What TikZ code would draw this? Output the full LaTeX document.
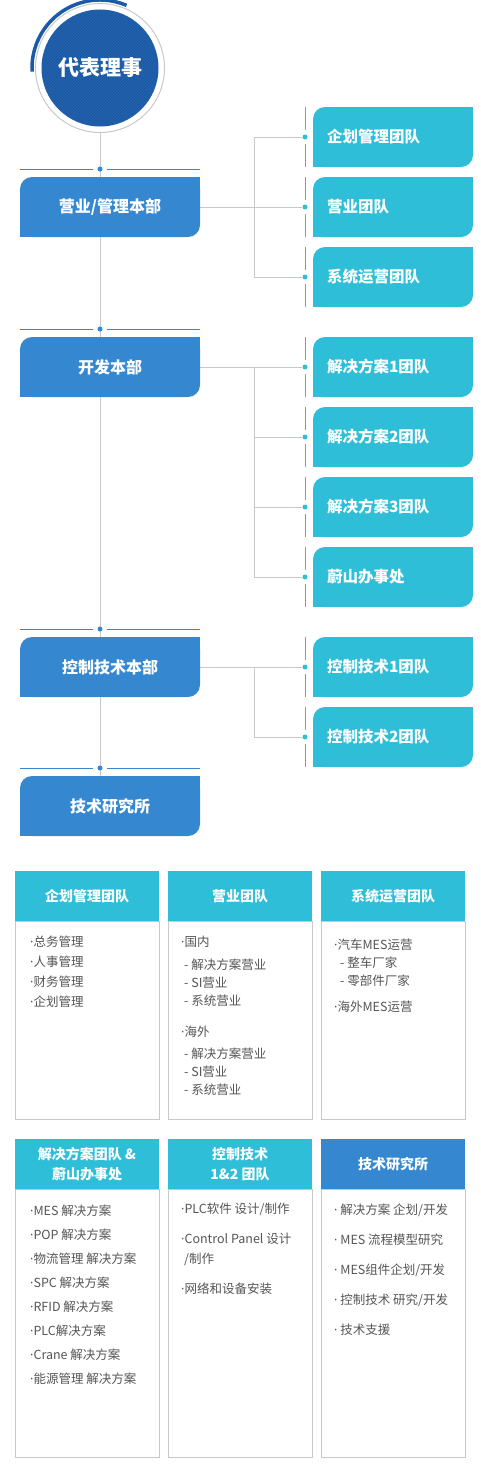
\documentclass[tikz,border=0pt]{standalone}
\usepackage{fontspec}
\setmainfont{Noto Sans CJK SC}
\newfontfamily\dotfont{Noto Sans}
\newcommand{\idot}{{\dotfont ·}}
\usetikzlibrary{positioning, patterns, backgrounds}
\definecolor{ceoblue}{HTML}{1A5AA6}
\definecolor{hqblue}{HTML}{3588CF}
\definecolor{teamcyan}{HTML}{2FBED8}
\definecolor{linegrey}{HTML}{C8C8C8}
\definecolor{itemgrey}{HTML}{555555}

\tikzset{
  hqbox/.style={fill=hqblue, rounded corners=12pt, minimum width=180pt, minimum height=60pt,
    inner sep=0pt, text=white, font=\bfseries\fontsize{16}{18}\selectfont},
  teambox/.style={fill=teamcyan, rounded corners=12pt, minimum height=60pt, text width=132pt,
    inner xsep=14pt, inner ysep=0pt, align=left, text=white, font=\bfseries\fontsize{15.5}{18}\selectfont},
  cardhead/.style={fill=#1, minimum width=144pt, minimum height=50pt, inner sep=0pt,
    align=center, text=white, font=\bfseries\fontsize{14}{20}\selectfont},
  cardbody/.style={draw=linegrey, line width=1pt, fill=white, minimum width=144pt, inner sep=0pt},
  cardtext/.style={anchor=west, inner sep=0pt, text=itemgrey, font=\fontsize{12.5}{15}\selectfont},
  pin/.style={circle, fill=#1, inner sep=0pt, minimum size=5pt},
  link/.style={draw=linegrey, line width=1pt},
}

\begin{document}
\begin{tikzpicture}[x=1pt, y=-1pt]
  \useasboundingbox (0,0) rectangle (480,1480);

  % CEO circle
  \fill[ceoblue] (100,68) circle[radius=58.5pt];
  \fill[pattern=north east lines, pattern color=white, opacity=0.07] (100,68) circle[radius=58.5pt];
  \node[circle, minimum size=117pt, inner sep=0pt, text=white,
        font=\bfseries\fontsize{21}{24}\selectfont] (ceo) at (100,68) {代表理事};
  \draw[linegrey, line width=1pt] (ceo.center) circle[radius=64.5pt];
  \draw[ceoblue, line width=3.5pt] ([shift={(ceo.center)}]67:68pt) arc[start angle=67, end angle=183, radius=68pt];

  % Headquarters rows
  \def\hqrow#1#2#3{%
    \pgfmathsetmacro{\ymid}{#2+30}
    \pgfmathsetmacro{\yline}{#2-8}
    \node[hqbox] (#1) at (110,\ymid) {#3};
    \fill[hqblue] (#1.north east) rectangle ++(-12,12);
    \fill[hqblue] (#1.south west) rectangle ++(12,-12);
    \draw[hqblue, line width=1pt] (20,\yline) -- (93,\yline) (107,\yline) -- (200,\yline);
    \node[pin=hqblue] (#1 pin) at (100,\yline) {};
  }
  \hqrow{mgmt}{177}{营业/管理本部}
  \hqrow{dev}{337}{开发本部}
  \hqrow{ctrl}{637}{控制技术本部}
  \hqrow{lab}{776}{技术研究所}

  % Team rows
  \def\teamrow#1#2#3{%
    \pgfmathsetmacro{\ymid}{#2+30}
    \node[teambox] (#1) at (393,\ymid) {#3};
    \fill[teamcyan] (#1.north east) rectangle ++(-12,12);
    \fill[teamcyan] (#1.south west) rectangle ++(12,-12);
    \draw[teamcyan, line width=1pt] (305,#2) -- (305,\ymid-7) (305,\ymid+7) -- (305,#2+60);
    \node[pin=teamcyan] (#1 pin) at (305,\ymid) {};
  }
  \teamrow{plan}{107}{企划管理团队}
  \teamrow{salesteam}{177}{营业团队}
  \teamrow{ops}{247}{系统运营团队}
  \teamrow{sol1}{337}{解决方案1团队}
  \teamrow{sol2}{407}{解决方案2团队}
  \teamrow{sol3}{477}{解决方案3团队}
  \teamrow{office}{547}{蔚山办事处}
  \teamrow{ctrl1}{637}{控制技术1团队}
  \teamrow{ctrl2}{707}{控制技术2团队}

  \coordinate[right=54pt of mgmt] (mgmt fork);
  \coordinate[right=54pt of dev] (dev fork);
  \coordinate[right=54pt of ctrl] (ctrl fork);

  \begin{scope}[on background layer]
    \draw[link] ([yshift=-6pt]ceo.south) -- (lab pin |- lab.north);
    \draw[link] (mgmt.east) -- (salesteam pin);
    \draw[link] (plan pin) -| (mgmt fork) |- (ops pin);
    \draw[link] (dev.east) -- (sol1 pin);
    \draw[link] (dev fork) |- (office pin);
    \draw[link] (dev fork) |- (sol2 pin);
    \draw[link] (dev fork) |- (sol3 pin);
    \draw[link] (ctrl.east) -- (ctrl1 pin);
    \draw[link] (ctrl fork) |- (ctrl2 pin);
  \end{scope}

  % Detail cards, first row
  \node[cardhead=teamcyan] (plan head) at (87,896) {企划管理团队};
  \node[cardbody, minimum height=198pt, below=0pt of plan head] (plan body) {};
  \node[cardhead=teamcyan] (sales head) at (240,896) {营业团队};
  \node[cardbody, minimum height=198pt, below=0pt of sales head] (sales body) {};
  \node[cardhead=teamcyan] (ops head) at (393,896) {系统运营团队};
  \node[cardbody, minimum height=198pt, below=0pt of ops head] (ops body) {};

  \foreach \t [count=\i] in {\idot{}总务管理, \idot{}人事管理, \idot{}财务管理, \idot{}企划管理}
    \node[cardtext] (plan item \i) at (30,922+\i*20) {\t};
  \foreach \t/\x/\y [count=\i] in {\idot{}国内/181/942, - 解决方案营业/184/965, - SI营业/184/983,
      - 系统营业/184/1001, \idot{}海外/181/1032, - 解决方案营业/184/1054, - SI营业/184/1072, - 系统营业/184/1090}
    \node[cardtext] (sales item \i) at (\x,\y) {\t};
  \foreach \t/\x/\y [count=\i] in {\idot{}汽车MES运营/334/945, - 整车厂家/340/963, - 零部件厂家/340/981, \idot{}海外MES运营/334/1007}
    \node[cardtext] (ops item \i) at (\x,\y) {\t};

  % Detail cards, second row
  \node[cardhead=teamcyan] (sol head) at (87,1164) {解决方案团队 \&\\蔚山办事处};
  \node[cardbody, minimum height=268pt, below=0pt of sol head] (sol body) {};
  \node[cardhead=teamcyan] (ctrl head) at (240,1164) {控制技术\\1\&2 团队};
  \node[cardbody, minimum height=268pt, below=0pt of ctrl head] (ctrl body) {};
  \node[cardhead=hqblue] (lab head) at (393,1164) {技术研究所};
  \node[cardbody, minimum height=268pt, below=0pt of lab head] (lab body) {};

  \foreach \t [count=\i] in {\idot{}MES 解决方案, \idot{}POP 解决方案, \idot{}物流管理 解决方案, \idot{}SPC 解决方案,
      \idot{}RFID 解决方案, \idot{}PLC解决方案, \idot{}Crane 解决方案, \idot{}能源管理 解决方案}
    \node[cardtext] (sol item \i) at (30,1187+\i*24) {\t};
  \foreach \t/\x/\y [count=\i] in {{\idot{}PLC软件 设计/制作}/181/1209, \idot{}Control Panel 设计/181/1239,
      {/制作}/184/1259, \idot{}网络和设备安装/181/1289}
    \node[cardtext] (ctrl item \i) at (\x,\y) {\t};
  \foreach \t [count=\i] in {{\idot\ 解决方案 企划/开发}, \idot\ MES 流程模型研究, {\idot\ MES组件企划/开发},
      {\idot\ 控制技术 研究/开发}, \idot\ 技术支援}
    \node[cardtext] (lab item \i) at (334,1180+\i*30) {\t};
\end{tikzpicture}
\end{document}
